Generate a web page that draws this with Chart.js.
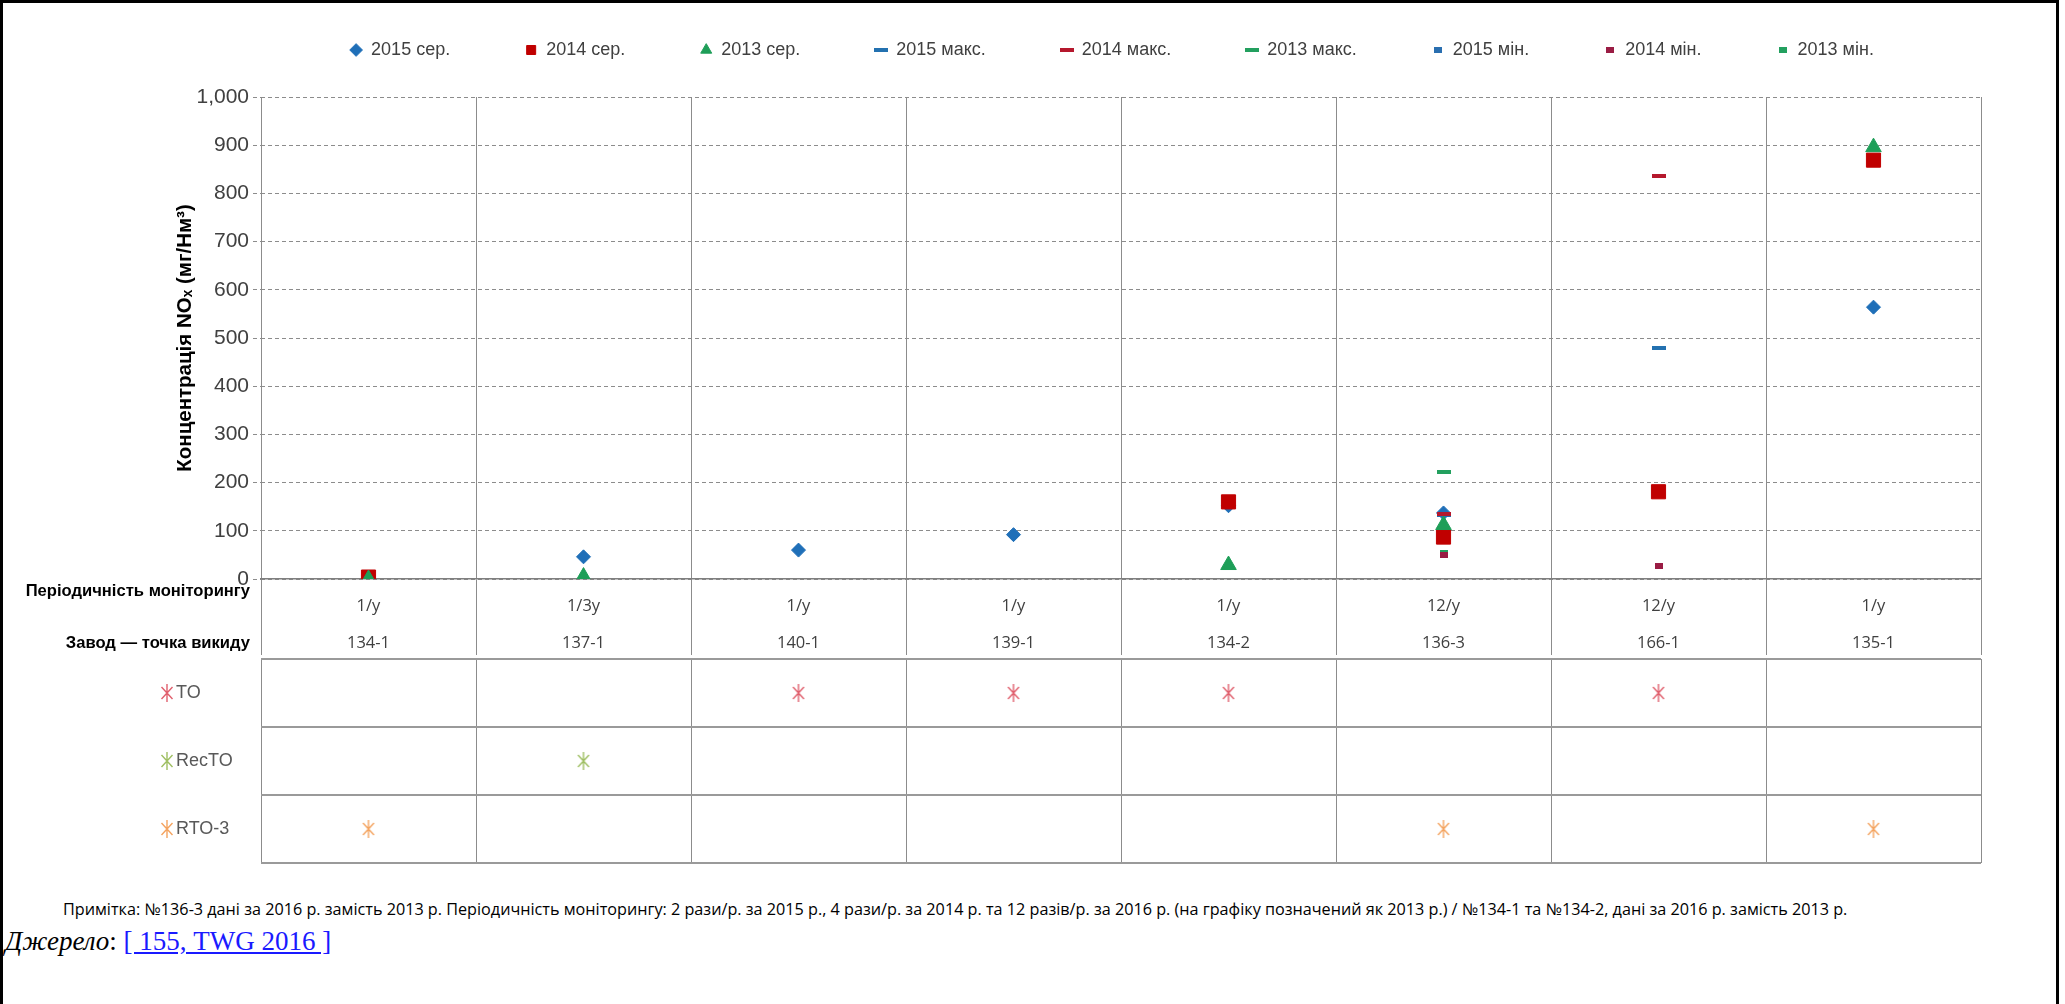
<!DOCTYPE html>
<html lang="uk">
<head>
<meta charset="utf-8">
<title>Концентрація NOx</title>
<script src="https://cdn.jsdelivr.net/npm/chart.js@4.4.1/dist/chart.umd.min.js"></script>
<style>
  html, body { margin: 0; padding: 0; background: #fff; }
  #page { position: relative; width: 2065px; height: 1004px; overflow: hidden; }
  #frame { position: absolute; left: 0; top: 0; width: 2059px; height: 1020px; border: 3px solid #000; box-sizing: border-box; }
  #top { position: absolute; left: 0; top: 0; }
  #tbl { position: absolute; left: 0; top: 640px; }
  #note { position: absolute; left: 63px; top: 898px; font: 16.2px 'Open Sans', sans-serif; color: #000; white-space: nowrap; }
  #src { position: absolute; left: 5px; top: 926px; font: 27px 'Liberation Serif', serif; color: #000; white-space: nowrap; }
  #src a { color: #1a1aff; text-decoration: underline; }
</style>
</head>
<body>
<div id="page">
  <div id="frame"></div>
  <canvas id="top" width="2065" height="680"></canvas>
  <canvas id="tbl" width="2065" height="240"></canvas>
  <div id="note">Примітка: №136-3 дані за 2016 р. замість 2013 р. Періодичність моніторингу: 2 рази/р. за 2015 р., 4 рази/р. за 2014 р. та 12 разів/р. за 2016 р. (на графіку позначений як 2013 р.) / №134-1 та №134-2, дані за 2016 р. замість 2013 р.</div>
  <div id="src"><i>Джерело</i>: <a href="#">[ 155, TWG 2016 ]</a></div>
</div>
<script>
// plants (emission points) and monitoring frequency
const plants = ['134-1', '137-1', '140-1', '139-1', '134-2', '136-3', '166-1', '135-1'];
const frequency = ['1/y', '1/3y', '1/y', '1/y', '1/y', '12/y', '12/y', '1/y'];

// NOx, mg/Nm3
const avg2015 = [null, 46, 60, 92, 152, 137, null, 564];
const avg2014 = [4, null, null, null, 160, 87, 181, 869];
const avg2013 = [0, 5, null, null, 29, 112, null, 896];
const max2015 = [null, null, null, null, null, 133, 479, null];
const max2014 = [null, null, null, null, null, 135, 837, null];
const max2013 = [null, null, null, null, null, 222, null, null];
const min2015 = [null, null, null, null, null, null, 27, null];
const min2014 = [null, null, null, null, null, 50, 28, null];
const min2013 = [null, null, null, null, null, 53, null, null];

// abatement technique per plant
const techRows = ['TO', 'RecTO', 'RTO-3'];
const techUsed = ['RTO-3', 'RecTO', 'TO', 'TO', 'TO', 'RTO-3', 'TO', 'RTO-3'];

const NARROW = "'Liberation Sans Narrow', 'Liberation Sans', sans-serif";
const blue = '#1f6fb8', red = '#c00000', green = '#1e9e58';

function bar(color, w, h) {
  const c = document.createElement('canvas');
  c.width = w; c.height = h;
  const g = c.getContext('2d');
  g.fillStyle = color;
  g.fillRect(0, 0, w, h);
  return c;
}
function asterisk(color) {
  const c = document.createElement('canvas');
  c.width = 14; c.height = 20;
  const g = c.getContext('2d');
  g.strokeStyle = color; g.lineWidth = 1.4;
  g.beginPath();
  g.moveTo(7, 1); g.lineTo(7, 19);
  g.moveTo(1.5, 4); g.lineTo(12.5, 16);
  g.moveTo(12.5, 4); g.lineTo(1.5, 16);
  g.stroke();
  return c;
}
const stars = [asterisk('#e0606e'), asterisk('#9fbf63'), asterisk('#f4a460')];

function pts(label, data, style, radius, color, order) {
  return {
    label: label, data: data, showLine: false,
    pointStyle: style, pointRadius: radius, pointHoverRadius: radius,
    backgroundColor: color, borderColor: color, pointBorderWidth: 1,
    order: order
  };
}

const legendPlace = {
  id: 'legendPlace',
  beforeInit(chart) {
    const fit = chart.legend.fit;
    chart.legend.fit = function () { fit.call(this); this.height = 97; };
  },
  afterLayout(chart) {
    const lg = chart.legend;
    lg.top = 50 - 75 - 9;
    lg.bottom = lg.top + lg.height;
    lg.left += 37; lg.right += 37;
  }
};

const rowTitles = {
  id: 'rowTitles',
  afterDraw(chart) {
    const ctx = chart.ctx;
    ctx.save();
    ctx.font = "bold 16.6px 'Liberation Sans', sans-serif";
    ctx.fillStyle = '#000';
    ctx.textAlign = 'right';
    ctx.textBaseline = 'middle';
    ctx.fillText('Періодичність моніторингу', 250, 591);
    ctx.fillText('Завод — точка викиду', 250, 643);
    ctx.restore();
  }
};

new Chart(document.getElementById('top'), {
  type: 'line',
  data: {
    labels: plants.map((p, i) => [frequency[i], p]),
    datasets: [
      pts('2015 сер.', avg2015, 'rectRot', 7, blue, 1),
      pts('2014 сер.', avg2014, 'rect', 10, red, 0),
      pts('2013 сер.', avg2013, 'triangle', 9, green, -1),
      pts('2015 макс.', max2015, bar('#2371b0', 14, 4), 7, '#2371b0', 0),
      pts('2014 макс.', max2014, bar('#b5182d', 14, 4), 7, '#b5182d', -1),
      pts('2013 макс.', max2013, bar('#23a05f', 14, 4), 7, '#23a05f', 0),
      pts('2015 мін.', min2015, bar('#2a6fb0', 8, 6), 4, '#2a6fb0', 1),
      pts('2014 мін.', min2014, bar('#9a1c44', 8, 6), 4, '#9a1c44', 0),
      pts('2013 мін.', min2013, bar('#23a05f', 8, 6), 4, '#23a05f', 0)
    ]
  },
  options: {
    responsive: false,
    animation: false,
    events: [],
    devicePixelRatio: 1,
    layout: { padding: { top: 0, left: 169, right: 84, bottom: 11 } },
    plugins: {
      legend: {
        position: 'top',
        labels: {
          usePointStyle: true, boxWidth: 12, boxHeight: 9, padding: 75,
          color: '#404040', font: { family: NARROW, size: 18 },
          sort: (a, b) => a.datasetIndex - b.datasetIndex
        }
      },
      tooltip: { enabled: false }
    },
    scales: {
      x: {
        offset: true,
        grid: { offset: true, color: '#8c8c8c', tickColor: '#8c8c8c', tickLength: 76, lineWidth: 1 },
        border: { color: '#7f7f7f', width: 1.5 },
        ticks: {
          autoSkip: false, maxRotation: 0, padding: -67.5, color: '#404040',
          font: { family: "'Open Sans', sans-serif", size: 16.5, lineHeight: '37px' }
        },
        afterFit(s) { s.height = 90; }
      },
      y: {
        min: 0, max: 1000,
        ticks: {
          stepSize: 100, padding: 4, color: '#404040',
          font: { family: NARROW, size: 21 },
          callback: v => v.toLocaleString('en-US')
        },
        grid: { color: '#8c8c8c', tickLength: 8, tickColor: '#8c8c8c', tickBorderDash: [4, 3] },
        border: { display: false, dash: [4, 3] },
        title: {
          display: true, text: 'Концентрація NOₓ (мг/Нм³)', color: '#000',
          font: { family: "'Liberation Sans', sans-serif", size: 20.5, weight: 'bold' }
        },
        afterFit(s) { s.width = 92; }
      }
    }
  },
  plugins: [legendPlace, rowTitles]
});

const rowStars = {
  id: 'rowStars',
  afterDraw(chart) {
    const y = chart.scales.y;
    techRows.forEach((t, k) => {
      const py = y.getPixelForValue(k);
      chart.ctx.drawImage(stars[k], 167 - 7, py - 10);
    });
  }
};

new Chart(document.getElementById('tbl'), {
  type: 'line',
  data: {
    labels: plants,
    datasets: techRows.map((t, k) => ({
      label: t,
      data: techUsed.map(u => (u === t ? t : null)),
      showLine: false,
      pointStyle: stars[k], pointRadius: 8, pointHoverRadius: 8
    }))
  },
  options: {
    responsive: false,
    animation: false,
    events: [],
    devicePixelRatio: 1,
    layout: { padding: { top: 19, left: 176, right: 84, bottom: 17 } },
    plugins: { legend: { display: false }, tooltip: { enabled: false } },
    scales: {
      x: {
        offset: true,
        grid: { offset: true, color: '#8c8c8c', drawTicks: false },
        ticks: { display: false },
        border: { display: false },
        afterFit(s) { s.height = 0; }
      },
      y: {
        type: 'category', labels: techRows, offset: true,
        grid: { offset: true, color: '#9a9a9a', lineWidth: 2, drawTicks: false },
        border: { display: false },
        ticks: { crossAlign: 'far', color: '#595959', font: { family: NARROW, size: 18 } },
        afterFit(s) { s.width = 85; }
      }
    }
  },
  plugins: [rowStars]
});
</script>
</body>
</html>
